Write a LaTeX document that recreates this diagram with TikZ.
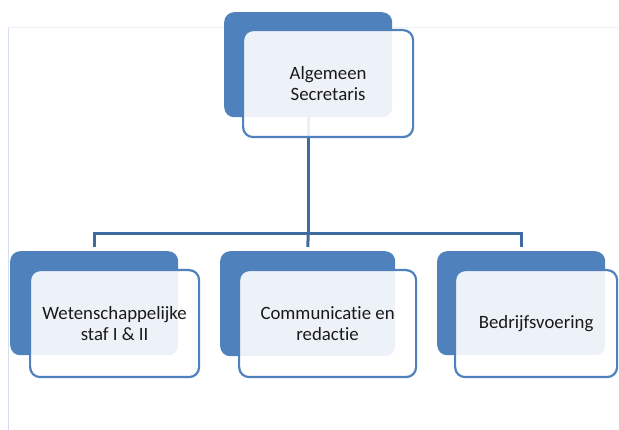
\documentclass[tikz,border=0pt]{standalone}
\usepackage{fontspec}
\setmainfont{Carlito}[RawFeature=-liga]
\definecolor{boxblue}{HTML}{4F81BD}
\definecolor{lineblue}{HTML}{3F6B9F}
\definecolor{frametop}{HTML}{EEF0F3}
\definecolor{frameleft}{HTML}{D5DEEE}
\begin{document}
\begin{tikzpicture}[x=1pt,y=-1pt,
  back/.style={fill=boxblue, draw=none, rounded corners=10pt, inner sep=0pt, anchor=north west},
  front/.style={fill=white, fill opacity=0.9, text opacity=1, draw=boxblue, draw opacity=1,
    line width=2.2pt, rounded corners=10pt, inner sep=0pt, anchor=north west, align=center,
    font=\fontsize{18.8}{21}\selectfont, text=black!90},
  conn/.style={draw=lineblue, line width=3pt},
  frame/.style={line width=1pt}]
\useasboundingbox (0,0) rectangle (619,430);
\draw[frame, frametop] (8,28) -- (619,28);
\draw[frame, frameleft] (8,28) -- (8,430);
% back boxes
\node[back, minimum width=168pt, minimum height=105pt] (topd) at (224,12) {};
\node[back, minimum width=168pt, minimum height=104pt] (b1d) at (10,251) {};
\node[back, minimum width=175pt, minimum height=105pt] (b2d) at (220,251) {};
\node[back, minimum width=168pt, minimum height=104pt] (b3d) at (437,251) {};
% connectors
\coordinate (hub) at (topd.south |- 0,234);
\draw[conn] (topd.south) -- (hub);
\draw[conn, shorten >=4pt] (hub) -| (b1d.north);
\draw[conn, shorten >=4pt] (hub) -| (b3d.north);
\draw[conn, shorten >=4pt] (hub) -- (b2d.north);
% front boxes
\node[front, minimum width=170pt, minimum height=107pt] (topf) at (242,29) {Algemeen\\Secretaris};
\node[front, minimum width=169pt, minimum height=107pt] (b1f) at (29,269) {Wetenschappelijke\\staf I \& II};
\node[front, minimum width=177pt, minimum height=107pt] (b2f) at (238,269) {Communicatie en\\redactie};
\node[front, minimum width=162pt, minimum height=107pt] (b3f) at (454,269) {Bedrijfsvoering};
\end{tikzpicture}
\end{document}
